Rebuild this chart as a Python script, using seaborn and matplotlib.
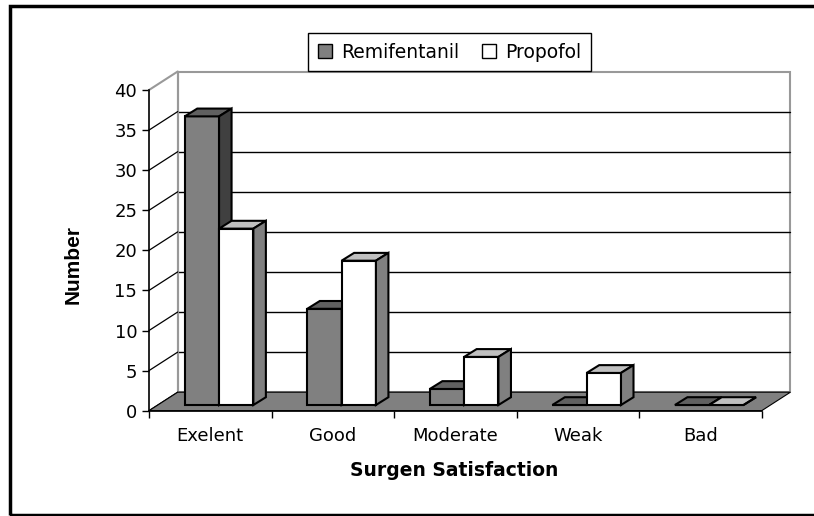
# Surgeon satisfaction, pseudo-3D bar chart
import matplotlib.pyplot as plt
import matplotlib.transforms as mtransforms
import seaborn as sns
import pandas as pd
from matplotlib.patches import Polygon, Rectangle, Patch

categories = ['Exelent', 'Good', 'Moderate', 'Weak', 'Bad']
remifentanil = [36, 12, 2, 0, 0]
propofol = [22, 18, 6, 4, 0]
groups = ['Remifentanil', 'Propofol']
y_ticks = [0, 5, 10, 15, 20, 25, 30, 35, 40]

df = pd.DataFrame({
    'Satisfaction': categories * 2,
    'Number': remifentanil + propofol,
    'Group': [groups[0]] * len(categories) + [groups[1]] * len(categories),
})

front_cols = ['#808080', '#ffffff']
top_cols = ['#606060', '#c0c0c0']
side_cols = ['#404040', '#808080']

sns.set_style('ticks')
plt.rcParams['font.family'] = ['DejaVu Sans']
plt.rcParams.update({'text.color': 'black', 'axes.labelcolor': 'black',
                     'xtick.color': 'black', 'ytick.color': 'black'})

W, H = 814, 516
fig = plt.figure(figsize=(W / 100, H / 100), dpi=100)
ax_w, ax_h = 612.7, 320.7
ax = fig.add_axes([149 / W, 1 - 410.7 / H, ax_w / W, ax_h / H])

sns.barplot(data=df, x='Satisfaction', y='Number', hue='Group',
            palette=front_cols, saturation=1, width=0.56,
            edgecolor='black', linewidth=1.5, legend=False, ax=ax)

ax.set_xlim(-0.5, len(categories) - 0.5)
ax.set_ylim(0, 40)

# pixel -> data units
px = ax_w / len(categories)
py = ax_h / 40
DX, DY = 28.7 / px, 18.5 / py      # depth of the box
bx, by = 12.5 / px, 7.8 / py       # depth of one bar
x0, x1 = -0.5, len(categories) - 0.5

# back wall + gridlines
ax.add_patch(Rectangle((x0 + DX, DY), x1 - x0, 40, fc='white', ec='#999999',
                       lw=1.5, zorder=0.5, clip_on=False))
for v in y_ticks[1:-1]:
    ax.plot([x0 + DX, x1 + DX], [v + DY, v + DY], color='black', lw=1,
            zorder=0.6, clip_on=False)
# left wall
ax.plot([x0 + DX, x0 + DX], [DY, 40 + DY], color='#999999', lw=1.5,
        zorder=0.6, clip_on=False)
for v in y_ticks:
    ax.plot([x0, x0 + DX], [v, v + DY], color='black' if v < 40 else '#999999',
            lw=0.9 if v < 40 else 1.5, zorder=0.6, clip_on=False)
# floor
ax.add_patch(Polygon([(x0, 0), (x1, 0), (x1 + DX, DY), (x0 + DX, DY)],
                     closed=True, fc='#808080', ec='black', lw=0.8,
                     zorder=0.7, clip_on=False))

# bars sit a bit behind the front edge
shift = ax.transData + mtransforms.ScaledTranslation(8.8 / 100, 5.7 / 100,
                                                     fig.dpi_scale_trans)
n = len(categories)
bars = [(p, i // n) for i, p in enumerate(ax.patches[:2 * n])]
bars.sort(key=lambda b: b[0].get_x())
for k, (p, g) in enumerate(bars):
    xl, w, h = p.get_x(), p.get_width(), p.get_height()
    z = 2 + k * 0.1
    p.set_transform(shift)
    p.set_zorder(z)
    p.set_clip_on(False)
    top = Polygon([(xl, h), (xl + w, h), (xl + w + bx, h + by), (xl + bx, h + by)],
                  closed=True, fc=top_cols[g], ec='black', lw=1.5,
                  transform=shift, zorder=z + 0.01, clip_on=False)
    side = Polygon([(xl + w, 0), (xl + w + bx, by), (xl + w + bx, h + by), (xl + w, h)],
                   closed=True, fc=side_cols[g], ec='black', lw=1.5,
                   transform=shift, zorder=z + 0.01, clip_on=False)
    ax.add_patch(top)
    ax.add_patch(side)

# axes
for s in ['top', 'right']:
    ax.spines[s].set_visible(False)
for s in ['left', 'bottom']:
    ax.spines[s].set_color('black')
    ax.spines[s].set_linewidth(1.2)
    ax.spines[s].set_zorder(1)

ax.set_yticks(y_ticks)
ax.tick_params(axis='y', length=5, width=1, pad=3.5, labelsize=13, colors='black')
ax.set_xticks(range(n))
ax.set_xticklabels(categories)
ax.set_xticks([i - 0.5 for i in range(n + 1)], minor=True)
ax.tick_params(axis='x', which='major', length=0, pad=12, labelsize=13)
ax.tick_params(axis='x', which='minor', length=5, width=1, color='black')

ax.set_xlabel('Surgen Satisfaction', fontsize=13.5, fontweight='bold')
ax.xaxis.set_label_coords(0.498, -0.158)
ax.set_ylabel('Number', fontsize=15, fontweight='bold',
              family=['Liberation Sans Narrow', 'Liberation Sans'])
ax.yaxis.set_label_coords((73 - 149) / ax_w, (410.7 - 264) / ax_h)
ax.yaxis.label.set_va('center')

handles = [Patch(fc=front_cols[0], ec='black'), Patch(fc=front_cols[1], ec='black')]
leg = fig.legend(handles, groups, loc='center',
                 bbox_to_anchor=(449.5 / W, 1 - 52 / H), ncol=2,
                 fontsize=13.5, frameon=True, fancybox=False, framealpha=1,
                 edgecolor='black', handlelength=0.75, handleheight=0.75,
                 handletextpad=0.5, columnspacing=1.2, borderpad=0.5)
leg.get_frame().set_linewidth(1.0)

# chart border (right side runs off the image)
fig.add_artist(Rectangle((10 / W, 1 - 515 / H), 1.0, 509 / H,
                         transform=fig.transFigure, fill=False,
                         ec='black', lw=2.5))

fig.savefig('out.png', dpi=100)
